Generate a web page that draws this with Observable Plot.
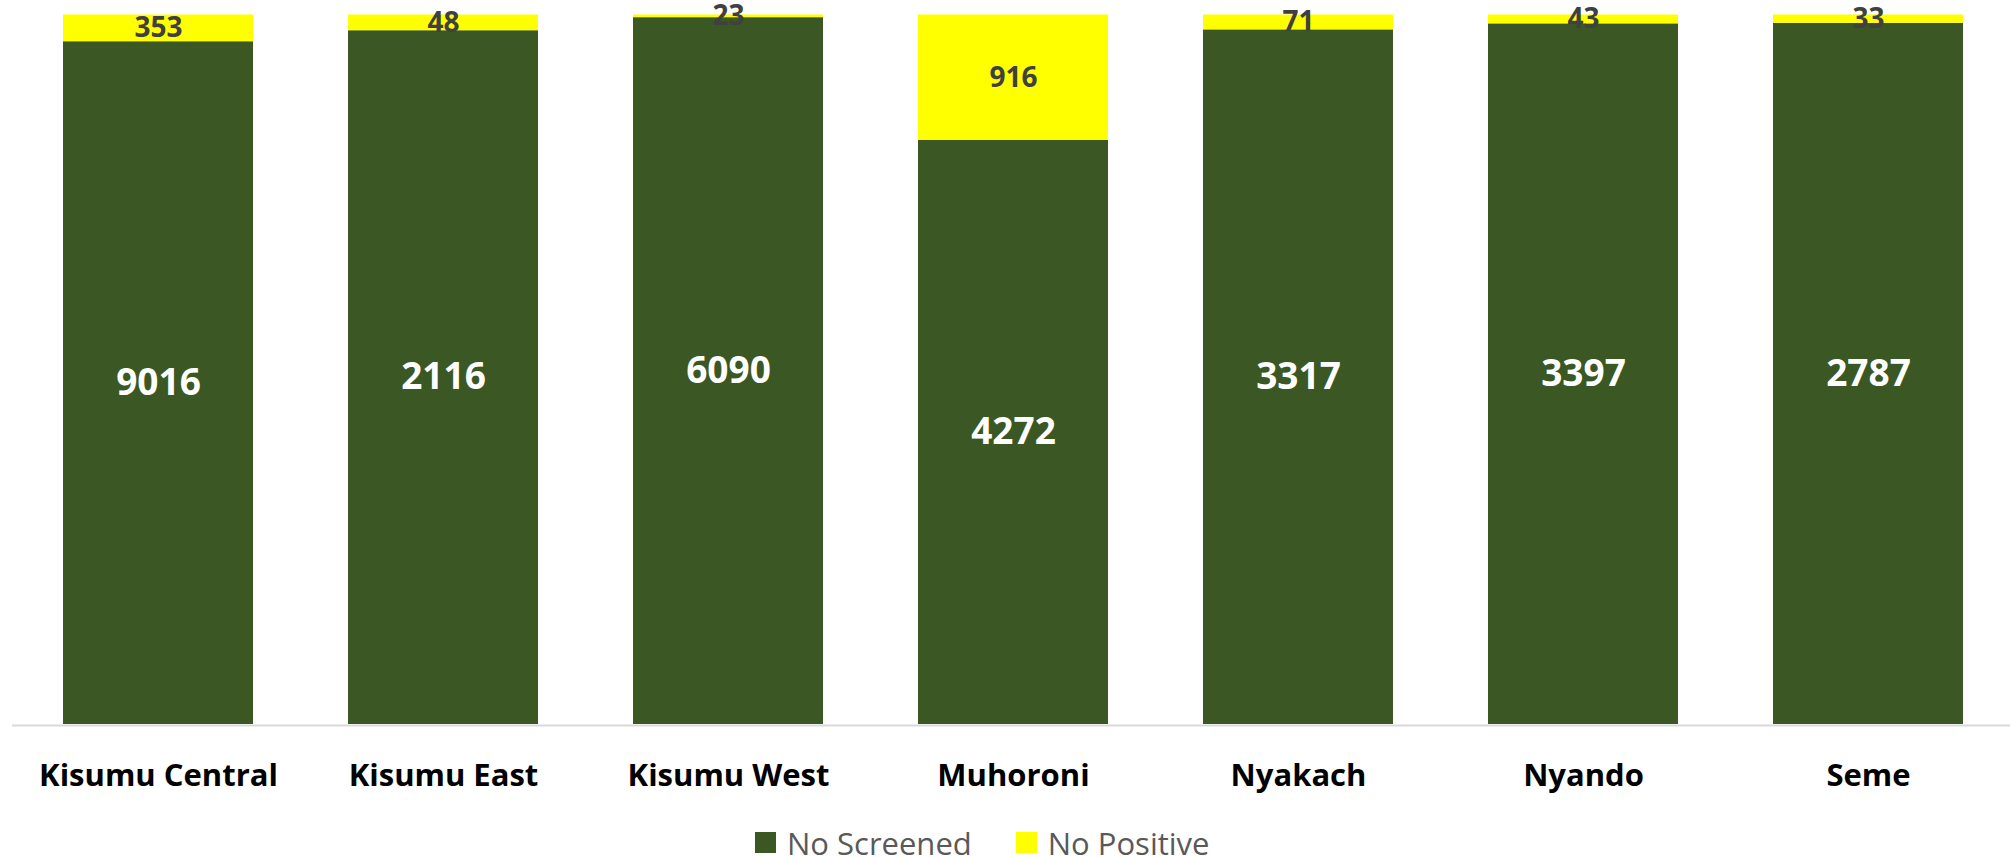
<!DOCTYPE html>
<html>
<head>
<meta charset="utf-8">
<script src="https://cdn.jsdelivr.net/npm/d3@7"></script>
<script src="https://cdn.jsdelivr.net/npm/@observablehq/plot@0.6"></script>
<style>
  html, body { margin: 0; padding: 0; background: #fff; overflow: hidden; }
  #chart svg { display: block; }
  #legend { height: 47px; box-sizing: border-box; padding-top: 18px; padding-left: 755px;
            display: flex; align-items: center; font-family: "Open Sans", sans-serif;
            font-size: 31px; color: #595959; }
  .item { display: flex; align-items: center; margin-right: 44px; }
  .sw { width: 21px; height: 21px; margin-right: 11px; }
</style>
</head>
<body>
<div id="chart"></div>
<div id="legend"></div>
<script>
const districts = ["Kisumu Central", "Kisumu East", "Kisumu West", "Muhoroni", "Nyakach", "Nyando", "Seme"];
const screened = [9016, 2116, 6090, 4272, 3317, 3397, 2787];
const positive = [353, 48, 23, 916, 71, 43, 33];
const seriesNames = ["No Screened", "No Positive"];
const seriesColors = ["#3A5724", "#FFFF00"];
const labelColors = ["#FFFFFF", "#404040"];
const labelSizes = [37, 28];

const rows = [];
districts.forEach((d, i) => rows.push({district: d, series: 0, value: screened[i]}));
districts.forEach((d, i) => rows.push({district: d, series: 1, value: positive[i]}));

const W = 2010, H = 810;
const chart = Plot.plot({
  width: W,
  height: H,
  marginLeft: 12,
  marginRight: 0,
  marginTop: 14.5,
  marginBottom: 86,
  style: {fontFamily: "Open Sans", color: "black", background: "white"},
  x: {domain: districts, range: [12, 2013], paddingInner: 0.335, paddingOuter: 0.1675, axis: null, label: null},
  y: {domain: [0, 1], axis: null},
  color: {type: "identity"},
  marks: [
    Plot.barY(rows, Plot.stackY({
      x: "district", y: "value", z: "series", offset: "normalize",
      fill: d => seriesColors[d.series]
    })),
    Plot.ruleY([0], {stroke: "#D9D9D9", strokeWidth: 2, dy: 1}),
    Plot.text(rows, Plot.stackY({
      x: "district", y: "value", z: "series", offset: "normalize",
      text: d => String(d.value),
      fill: d => labelColors[d.series],
      fontSize: d => labelSizes[d.series],
      fontWeight: "bold"
    })),
    Plot.axisX({tickSize: 0, tickPadding: 39, fontSize: 31, fontWeight: "bold", label: null})
  ]
});
document.getElementById("chart").appendChild(chart);

const legend = document.getElementById("legend");
seriesNames.forEach((name, i) => {
  const item = document.createElement("div");
  item.className = "item";
  const sw = document.createElement("div");
  sw.className = "sw";
  sw.style.background = seriesColors[i];
  const t = document.createElement("span");
  t.textContent = name;
  item.appendChild(sw);
  item.appendChild(t);
  legend.appendChild(item);
});
</script>
</body>
</html>
